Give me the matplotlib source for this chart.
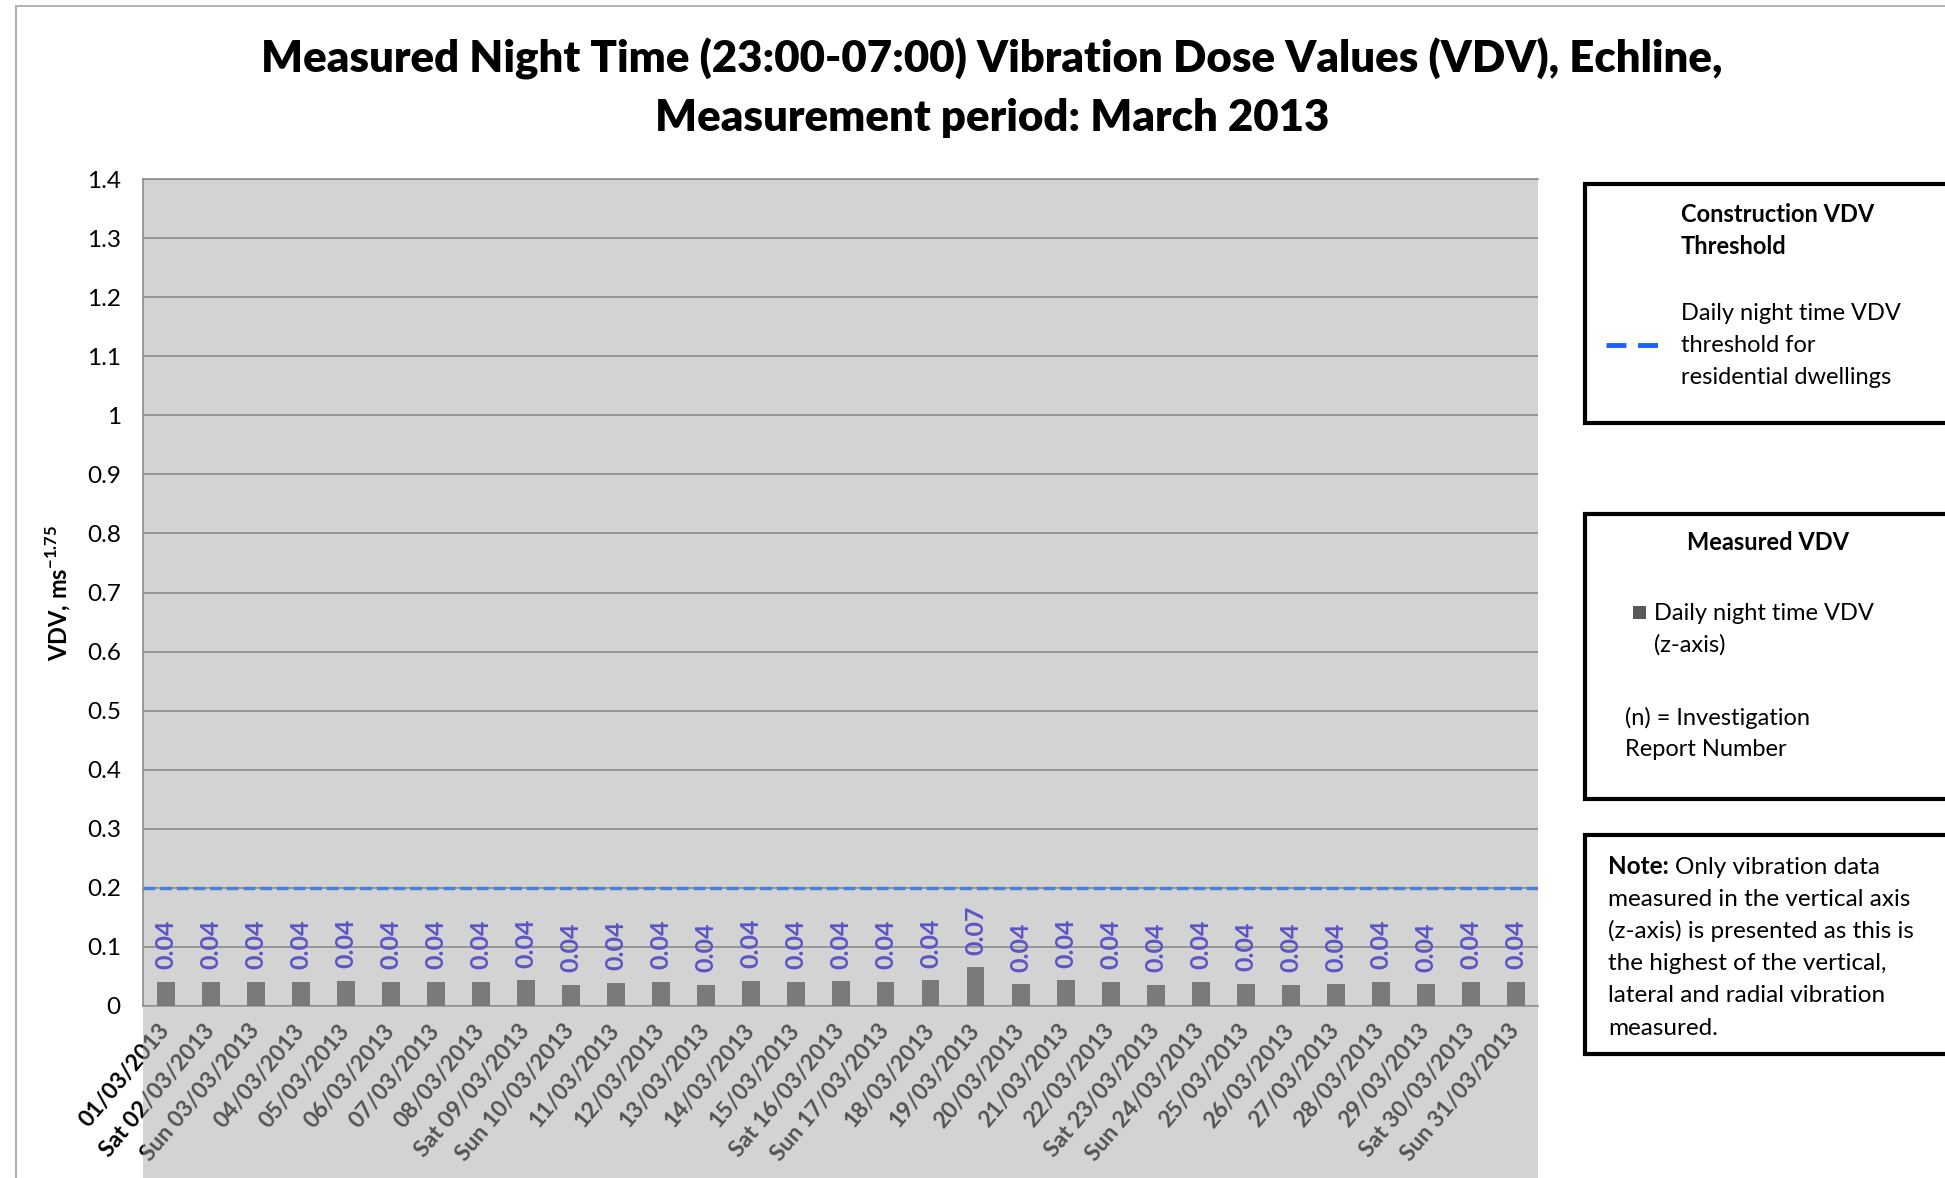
import numpy as np
import matplotlib
matplotlib.use('Agg')
import matplotlib.pyplot as plt
from matplotlib.patches import Rectangle
from matplotlib.lines import Line2D

plt.rcParams['font.family'] = ['Lato', 'DejaVu Sans']
plt.rcParams['mathtext.fontset'] = 'custom'
plt.rcParams['mathtext.rm'] = 'Lato'
plt.rcParams['mathtext.bf'] = 'Lato:bold'

# Daten
dates = ['01/03/2013', 'Sat 02/03/2013', 'Sun 03/03/2013', '04/03/2013', '05/03/2013',
         '06/03/2013', '07/03/2013', '08/03/2013', 'Sat 09/03/2013', 'Sun 10/03/2013',
         '11/03/2013', '12/03/2013', '13/03/2013', '14/03/2013', '15/03/2013',
         'Sat 16/03/2013', 'Sun 17/03/2013', '18/03/2013', '19/03/2013', '20/03/2013',
         '21/03/2013', '22/03/2013', 'Sat 23/03/2013', 'Sun 24/03/2013', '25/03/2013',
         '26/03/2013', '27/03/2013', '28/03/2013', '29/03/2013', 'Sat 30/03/2013',
         'Sun 31/03/2013']
vdv = [0.041, 0.041, 0.041, 0.041, 0.043, 0.041, 0.041, 0.041, 0.044, 0.036,
       0.039, 0.041, 0.036, 0.043, 0.041, 0.042, 0.041, 0.044, 0.066, 0.037,
       0.044, 0.041, 0.036, 0.041, 0.038, 0.036, 0.037, 0.041, 0.037, 0.041,
       0.041]
threshold = 0.2
yticks = [0, 0.1, 0.2, 0.3, 0.4, 0.5, 0.6, 0.7, 0.8, 0.9, 1, 1.1, 1.2, 1.3, 1.4]

W, H = 1945, 1178
fig = plt.figure(figsize=(W / 100, H / 100), dpi=100)

# outer chart border
fig.add_artist(Line2D([16 / W, 16 / W], [0, 1 - 6 / H], color='#a6a6a6', lw=1.2))
fig.add_artist(Line2D([16 / W, 1], [1 - 6 / H, 1 - 6 / H], color='#a6a6a6', lw=1.2))

ax_l, ax_r, ax_t, ax_b = 143, 1538, 179, 1006
ax = fig.add_axes([ax_l / W, 1 - ax_b / H, (ax_r - ax_l) / W, (ax_b - ax_t) / H])
ax.set_facecolor('#d3d3d3')

x = np.arange(len(dates))
ax.bar(x, vdv, width=0.4, color='#7a7a7a', zorder=3)
ax.axhline(threshold, color='#4a80dc', lw=2.5, dashes=(3.4, 1.4), zorder=4)

for xi, v in zip(x, vdv):
    ax.annotate(f'{v:.2f}', xy=(xi, v), xytext=(0, 9), textcoords='offset points',
                rotation=90, ha='center', va='bottom', fontsize=18,
                fontweight='bold', color='#5b55c5', zorder=5)

ax.set_xlim(-0.5, len(dates) - 0.5)
ax.set_ylim(0, 1.4)
ax.set_yticks(yticks)
ax.set_yticklabels([f'{t:g}' for t in yticks], fontsize=17.5)
ax.grid(axis='y', color='#8c8c8c', lw=1.2, zorder=1)
ax.set_xticks(x)
ax.set_xticklabels(dates, rotation=50, ha='right', va='center',
                   rotation_mode='anchor', fontsize=16.5, fontweight='bold')
ax.tick_params(axis='y', length=0, pad=16)
ax.tick_params(axis='x', length=0, pad=15)
for s in ['right']:
    ax.spines[s].set_visible(False)
for s in ['left', 'bottom', 'top']:
    ax.spines[s].set_color('#8c8c8c')
    ax.spines[s].set_linewidth(1.2)

# grey band over the date labels
fig.add_artist(Rectangle((ax_l / W, 0), (ax_r - ax_l) / W, 1 - ax_b / H,
                         transform=fig.transFigure, facecolor=(168 / 255,) * 3,
                         alpha=0.5, lw=0, zorder=3))

fig.text(992 / W, 1 - 59 / H, 'Measured Night Time (23:00-07:00) Vibration Dose Values (VDV), Echline,',
         ha='center', va='center', fontsize=31.5, fontweight='heavy')
fig.text(992 / W, 1 - 118 / H, 'Measurement period: March 2013',
         ha='center', va='center', fontsize=31.5, fontweight='heavy')
fig.text(58 / W, 1 - 593 / H, r'VDV, ms$^{\mathbf{-1.75}}$', rotation=90,
         ha='center', va='center', fontsize=17, fontweight='bold')

# legend boxes
def box(top, bottom):
    fig.add_artist(Rectangle((1585 / W, 1 - bottom / H), 0.3, (bottom - top) / H,
                             transform=fig.transFigure, facecolor='white',
                             edgecolor='black', lw=3, zorder=5))

def txt(px, py, s, size=17, **kw):
    return fig.text(px / W, 1 - py / H, s, va='center', fontsize=size, zorder=6, **kw)

box(184, 423)
txt(1681, 215, 'Construction VDV', fontweight='bold')
txt(1681, 247, 'Threshold', fontweight='bold')
txt(1681, 313, 'Daily night time VDV')
txt(1681, 345, 'threshold for')
txt(1681, 377, 'residential dwellings')
fig.add_artist(Line2D([1606 / W, 1658 / W], [1 - 345 / H] * 2, color='#1f5fff',
                      lw=3.5, dashes=(4.1, 2.4), zorder=6))

box(514, 799)
txt(1768, 543, 'Measured VDV', fontweight='bold', ha='center')
fig.add_artist(Rectangle((1633 / W, 1 - 619 / H), 13 / W, 13 / H, transform=fig.transFigure,
                         facecolor='#595959', lw=0, zorder=6))
txt(1654, 613, 'Daily night time VDV')
txt(1654, 645, '(z-axis)')
txt(1625, 718, '(n) = Investigation')
txt(1625, 750, 'Report Number')

box(835, 1054)
note = txt(1608, 867, 'Note:', size=17.5, fontweight='bold')
r = fig.canvas.get_renderer()
nx = note.get_window_extent(r).x1
txt(nx + 6, 867, 'Only vibration data', size=17.5)
note_lines = ['measured in the vertical axis', '(z-axis) is presented as this is',
              'the highest of the vertical,', 'lateral and radial vibration', 'measured.']
for i, line in enumerate(note_lines):
    txt(1608, 899 + i * 32.3, line, size=17.5)

fig.savefig('out.png', dpi=100)
